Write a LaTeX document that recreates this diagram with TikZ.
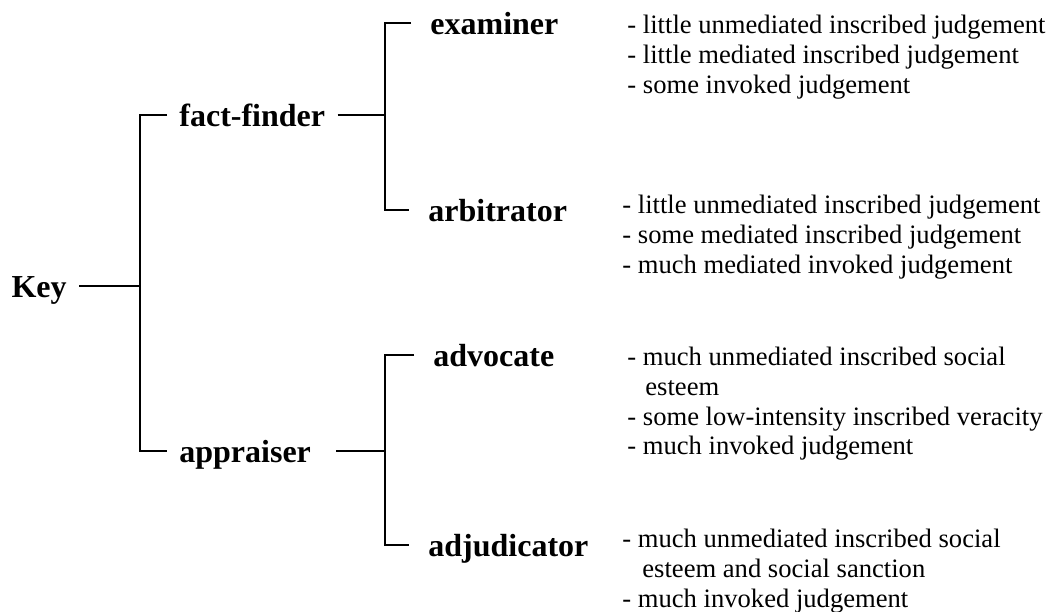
\documentclass[tikz,border=0pt]{standalone}
\usepackage{fontspec}
\setmainfont{Liberation Serif}
\usetikzlibrary{positioning}

\begin{document}
\begin{tikzpicture}[x=0.5pt, y=-0.5pt,
    grp/.style={font=\fontsize{16}{18}\selectfont\bfseries, inner xsep=6pt,
                inner ysep=0pt, text height=11pt, text depth=0pt},
    role/.style={grp, inner xsep=9.5pt, anchor=west},
    notes/.style={font=\fontsize{13.3}{14.8}\selectfont, align=left,
                  inner sep=0pt, anchor=north west},
    tree/.style={line width=1pt}]
  \useasboundingbox (0,0) rectangle (1047,611);

  \node[grp, anchor=east] (key) at (79,286) {Key};
  \node[grp, anchor=west] (ff)  at (167,115) {fact-finder};
  \node[grp, anchor=west] (app) at (167,451) {appraiser};

  \node[role] (exm) at (411,23)  {examiner};
  \node[role] (arb) at (409,210) {arbitrator};
  \node[role] (adv) at (414,355) {advocate};
  \node[role] (adj) at (409,545) {adjudicator};

  \coordinate (trunk) at (140,286);
  \coordinate (upper) at (385,115);
  \coordinate (lower) at (385,451);

  \draw[tree] (key.east) -- (trunk);
  \draw[tree] (ff.west) -| (trunk) |- (app.west);
  \draw[tree] (ff.east) -- (upper);
  \draw[tree] ([xshift=6.5pt]app.east) -- (lower);
  \draw[tree] (exm.west) -| (upper) |- (arb.west);
  \draw[tree] (adv.west) -| (lower) |- (adj.west);

  \node[notes] (exm-notes) at (627,15)
    {- little unmediated inscribed judgement\\
     - little mediated inscribed judgement\\
     - some invoked judgement};
  \node[notes] (arb-notes) at (622,195)
    {- little unmediated inscribed judgement\\
     - some mediated inscribed judgement\\
     - much mediated invoked judgement};
  \node[notes] (adv-notes) at (627,347)
    {- much unmediated inscribed social\\
     \hspace*{9pt}esteem\\
     - some low-intensity inscribed veracity\\
     - much invoked judgement};
  \node[notes] (adj-notes) at (622,529)
    {- much unmediated inscribed social\\
     \hspace*{10pt}esteem and social sanction\\
     - much invoked judgement};
\end{tikzpicture}
\end{document}
